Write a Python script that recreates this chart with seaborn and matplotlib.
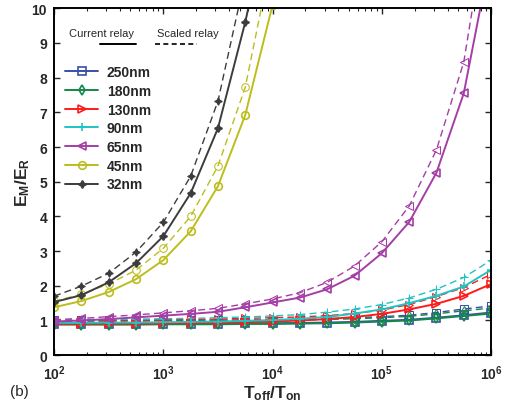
import numpy as np
import pandas as pd
import matplotlib
matplotlib.use("Agg")
import matplotlib.pyplot as plt
import seaborn as sns

# T_off/T_on sample points (4 per decade, 1e2 .. 1e6)
ratio = [1e2, 1.78e2, 3.16e2, 5.62e2, 1e3, 1.78e3, 3.16e3, 5.62e3, 1e4,
         1.78e4, 3.16e4, 5.62e4, 1e5, 1.78e5, 3.16e5, 5.62e5, 1e6]
nan = np.nan

nodes = ["250nm", "180nm", "130nm", "90nm", "65nm", "45nm", "32nm"]

# current relay (solid)
cur_250 = [0.90, 0.90, 0.90, 0.90, 0.91, 0.91, 0.91, 0.92, 0.92, 0.93, 0.94, 0.96, 0.99, 1.02, 1.08, 1.15, 1.23]
cur_180 = [0.88, 0.88, 0.88, 0.88, 0.89, 0.89, 0.89, 0.90, 0.90, 0.91, 0.92, 0.94, 0.97, 1.00, 1.06, 1.13, 1.20]
cur_130 = [0.90, 0.90, 0.91, 0.91, 0.92, 0.93, 0.94, 0.95, 0.97, 1.00, 1.04, 1.10, 1.19, 1.32, 1.48, 1.71, 2.05]
cur_90 = [0.93, 0.93, 0.94, 0.94, 0.95, 0.96, 0.97, 0.99, 1.01, 1.05, 1.10, 1.20, 1.32, 1.50, 1.71, 1.98, 2.46]
cur_65 = [0.97, 1.00, 1.04, 1.09, 1.14, 1.19, 1.25, 1.38, 1.52, 1.66, 1.90, 2.29, 2.94, 3.84, 5.26, 7.55, 11.6]
cur_45 = [1.38, 1.56, 1.82, 2.19, 2.74, 3.57, 4.87, 6.92, 10.1, nan, nan, nan, nan, nan, nan, nan, nan]
cur_32 = [1.53, 1.73, 2.10, 2.65, 3.43, 4.67, 6.54, 9.60, 13.2, nan, nan, nan, nan, nan, nan, nan, nan]

# scaled relay (dashed)
scl_250 = [1.00, 1.00, 1.00, 1.00, 1.01, 1.01, 1.01, 1.02, 1.02, 1.03, 1.05, 1.08, 1.11, 1.15, 1.23, 1.33, 1.42]
scl_180 = [0.98, 0.98, 0.98, 0.98, 0.99, 0.99, 0.99, 1.00, 1.00, 1.01, 1.03, 1.05, 1.08, 1.12, 1.19, 1.28, 1.36]
scl_130 = [1.00, 1.00, 1.01, 1.01, 1.02, 1.03, 1.04, 1.06, 1.08, 1.10, 1.14, 1.20, 1.30, 1.46, 1.69, 1.95, 2.33]
scl_90 = [1.02, 1.03, 1.03, 1.04, 1.05, 1.06, 1.08, 1.10, 1.13, 1.17, 1.24, 1.33, 1.46, 1.65, 1.90, 2.24, 2.74]
scl_65 = [1.02, 1.06, 1.11, 1.16, 1.22, 1.28, 1.35, 1.48, 1.62, 1.80, 2.10, 2.57, 3.27, 4.30, 5.92, 8.45, 13.3]
scl_45 = [1.55, 1.76, 2.05, 2.45, 3.08, 4.00, 5.45, 7.72, 11.6, nan, nan, nan, nan, nan, nan, nan, nan]
scl_32 = [1.70, 1.99, 2.36, 2.97, 3.83, 5.16, 7.32, 10.9, 15.0, nan, nan, nan, nan, nan, nan, nan, nan]

current = [cur_250, cur_180, cur_130, cur_90, cur_65, cur_45, cur_32]
scaled = [scl_250, scl_180, scl_130, scl_90, scl_65, scl_45, scl_32]

xticks = [1e2, 1e3, 1e4, 1e5, 1e6]
xtick_labels = [r"$\mathbf{10^{2}}$", r"$\mathbf{10^{3}}$", r"$\mathbf{10^{4}}$",
                r"$\mathbf{10^{5}}$", r"$\mathbf{10^{6}}$"]
yticks = list(range(0, 11))

colors = ["#3a4fa6", "#14874a", "#ff1a1a", "#1fc4c4", "#a43ea6", "#bdbd1e", "#3c3c3c"]
markers = ["s", "d", ">", "+", "<", "o", (4, 1, 0)]

sns.set_style("ticks")
plt.rcParams["font.family"] = ["Liberation Sans", "DejaVu Sans"]
plt.rcParams["mathtext.fontset"] = "custom"
plt.rcParams["mathtext.rm"] = "Liberation Sans"
plt.rcParams["mathtext.bf"] = "Liberation Sans:bold"
plt.rcParams["mathtext.it"] = "Liberation Sans:italic"

fig = plt.figure(figsize=(5.10, 4.02), dpi=100)
ax = fig.add_axes([0.106, 0.114, 0.857, 0.863])

for name, cur, scl, c, m in zip(nodes, current, scaled, colors, markers):
    filled = m == (4, 1, 0)
    mfc = c if filled else "none"
    d = pd.DataFrame({"x": ratio, "cur": cur, "scl": scl})
    sns.lineplot(data=d, x="x", y="scl", ax=ax, color=c, marker=m, mfc=mfc, mec=c,
                 markersize=5.5, lw=1.0, linestyle=(0, (5, 3)),
                 errorbar=None, clip_on=True)
    sns.lineplot(data=d, x="x", y="cur", ax=ax, color=c, marker=m, mfc=mfc, mec=c,
                 markersize=5.5, mew=1.2, lw=1.4, errorbar=None, label=name, clip_on=True)

ax.set_xscale("log")
ax.set_xlim(1e2, 1e6)
ax.set_ylim(0, 10)
ax.set_xticks(xticks)
ax.set_xticklabels(xtick_labels)
ax.set_yticks(yticks)
ax.set_yticklabels([str(t) for t in yticks], fontweight="bold")
ax.tick_params(which="both", direction="in", top=True, right=True, labelsize=10)
ax.tick_params(axis="x", pad=6)
ax.tick_params(axis="y", pad=5)
ax.tick_params(which="major", length=4, width=1)
ax.tick_params(which="minor", length=2.5, width=0.8)
for s in ax.spines.values():
    s.set_linewidth(1.4)
    s.set_color("black")

ax.set_xlabel(r"$\mathbf{T_{off}/T_{on}}$", fontsize=12.5, labelpad=1)
ax.set_ylabel(r"$\mathbf{E_{M}/E_{R}}$", fontsize=12.5, labelpad=0)

leg = ax.legend(loc="upper left", bbox_to_anchor=(0.025, 0.836), frameon=False,
                borderaxespad=0, borderpad=0, handlelength=2.4, handletextpad=0.6,
                labelspacing=0.34, prop={"weight": "bold", "size": 10})

# relay-type key
ax.text(0.108, 0.928, "Current relay", transform=ax.transAxes, ha="center", va="center", fontsize=8)
ax.text(0.307, 0.928, "Scaled relay", transform=ax.transAxes, ha="center", va="center", fontsize=8)
ax.plot([0.105, 0.187], [0.896, 0.896], transform=ax.transAxes, color="black", lw=1.4)
ax.plot([0.231, 0.327], [0.896, 0.896], transform=ax.transAxes, color="black", lw=1.2,
        linestyle=(0, (3, 2)))

fig.text(0.02, 0.015, "(b)", fontsize=11)

fig.savefig("out.png", dpi=100)
